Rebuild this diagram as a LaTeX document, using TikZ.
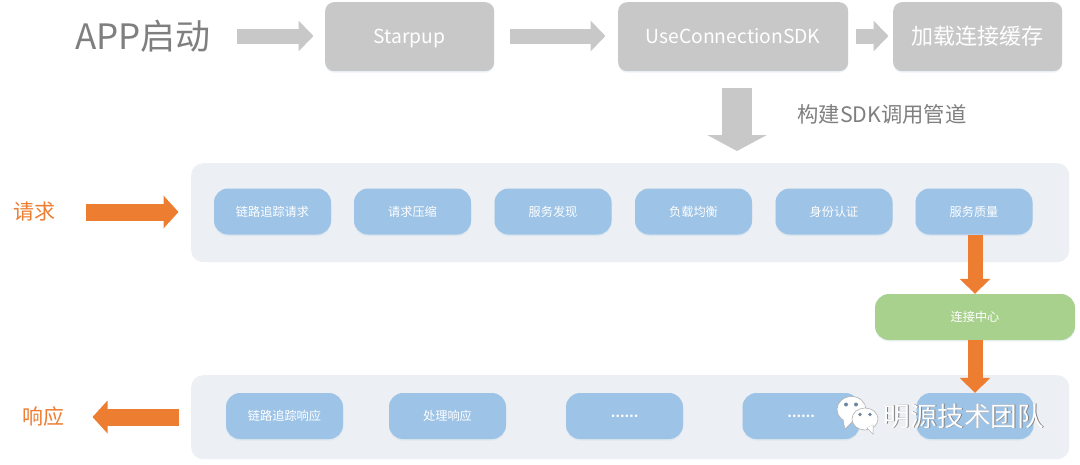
\documentclass[tikz,border=0pt]{standalone}
\usepackage{fontspec}
\setmainfont{Noto Sans CJK SC}
\usetikzlibrary{arrows.meta,shadows}
\definecolor{greybox}{HTML}{C8C8C8}
\definecolor{greytxt}{HTML}{7F7F7F}
\definecolor{orangeA}{HTML}{ED7D31}
\definecolor{bluebox}{HTML}{9DC3E6}
\definecolor{greenbox}{HTML}{A9D18E}
\definecolor{panelc}{HTML}{ECEFF3}
\tikzset{
 softshadow/.style={drop shadow={shadow xshift=0pt,shadow yshift=-1.5pt,opacity=.18,fill=bluebox}},
 gbox/.style={rounded corners=9pt,fill=greybox,text=white,softshadow,anchor=north west,inner sep=0pt,align=center},
 sbox/.style={rounded corners=14pt,fill=bluebox,text=white,font=\fontsize{12.2}{14}\selectfont,minimum width=117pt,minimum height=46pt,inner sep=0pt,softshadow},
 panel/.style={rounded corners=12pt,fill=panelc,minimum width=878pt,inner sep=0pt,anchor=north west},
 grey arrow/.style={draw=greybox,line width=15pt,-{Triangle[length=15pt,width=30pt]}},
 orange arrow/.style={draw=orangeA,line width=15pt,-{Triangle[length=15pt,width=30pt]}},
 lbl/.style={inner sep=0pt},
 wm/.style={inner sep=0pt,text=white,font=\fontsize{26.7}{29}\selectfont},
 wms/.style={inner sep=0pt,text=black!50,font=\fontsize{26.7}{29}\selectfont},
 bubble/.style={fill=white,draw=black!30,line width=.6pt},
 eye/.style={fill=bluebox!70!black,draw=none},
}
\begin{document}
\begin{tikzpicture}[x=1pt,y=-1pt]
\useasboundingbox[fill=white] (0,0) rectangle (1080,464);
% top row
\node[lbl,text=greytxt,font=\fontsize{35}{38}\selectfont] (app) at (143,36) {APP启动};
\node[gbox,minimum width=169pt,minimum height=69pt] (star) at (325,2) {};
\node[lbl,text=white,font=\fontsize{19.3}{21}\selectfont,anchor=base] (startxt) at (409.5,43) {Starpup};
\node[gbox,minimum width=230pt,minimum height=69pt] (ucs) at (618,2) {};
\node[lbl,text=white,font=\fontsize{19.3}{21}\selectfont,anchor=base] (ucstxt) at (733,43) {UseConnectionSDK};
\node[gbox,minimum width=169pt,minimum height=69pt] (cache) at (893,2) {};
\node[lbl,text=white,font=\fontsize{22}{24}\selectfont] (cachetxt) at (977.5,36) {加载连接缓存};
\coordinate (a1s) at (237,36); \coordinate (a1e) at (313.5,36);
\coordinate (a2s) at (510,36); \coordinate (a2e) at (605.5,36);
\coordinate (a3s) at (856,36); \coordinate (a3e) at (888.5,36);
\draw[grey arrow] (a1s) -- (a1e);
\draw[grey arrow] (a2s) -- (a2e);
\draw[grey arrow] (a3s) -- (a3e);
\coordinate (d1s) at (737,88); \coordinate (d1e) at (737,151);
\draw[draw=greybox,line width=30pt,-{Triangle[length=16pt,width=59pt]}] (d1s) -- (d1e);
\node[lbl,text=greytxt,font=\fontsize{21.3}{24}\selectfont] (pipe) at (882,114) {构建SDK调用管道};
% panels
\node[panel,minimum height=99pt] (p1) at (191,163) {};
\node[panel,minimum height=84pt] (p2) at (191,375) {};
% request row
\node[lbl,text=orangeA,font=\fontsize{21}{23}\selectfont] (req) at (34,212) {请求};
\coordinate (rqs) at (86,212); \coordinate (rqe) at (178.5,212);
\draw[draw=orangeA,line width=17pt,-{Triangle[length=15pt,width=32pt]}] (rqs) -- (rqe);
\node[sbox] (r1) at (272.5,211.5) {链路追踪请求};
\node[sbox] (r2) at (412.5,211.5) {请求压缩};
\node[sbox] (r3) at (553,211.5) {服务发现};
\node[sbox] (r4) at (693.5,211.5) {负载均衡};
\node[sbox] (r5) at (834,211.5) {身份认证};
\node[sbox] (r6) at (974,211.5) {服务质量};
% centre
\node[sbox,fill=greenbox,minimum width=200pt] (hub) at (975,317) {连接中心};
% response row
\node[lbl,text=orangeA,font=\fontsize{21}{23}\selectfont] (resp) at (44,417) {响应};
\node[sbox] (s1) at (284.5,416) {链路追踪响应};
\node[sbox] (s2) at (447.5,416) {处理响应};
\node[sbox] (s3) at (624.5,416) {\textbf{⋯⋯}};
\node[sbox] (s4) at (801,416) {\textbf{⋯⋯}};
\node[sbox] (s5) at (975,416) {};
\coordinate (rs) at (179,417); \coordinate (re) at (92.5,417);
\draw[draw=orangeA,line width=17pt,-{Triangle[length=15pt,width=32pt]}] (rs) -- (re);
\draw[orange arrow] (r6.south -| hub.north) -- (hub.north);
\draw[orange arrow] (hub.south) -- (s5.north -| hub.south);
% watermark
\filldraw[bubble] (851.5,409.5) ellipse (14.5pt and 13pt);
\filldraw[bubble] (843,420) -- (845,429) -- (853,421) -- cycle;
\fill[white] (843.6,419) -- (845.3,427.6) -- (853,420) -- cycle;
\fill[eye] (846,404.5) circle (2pt);
\fill[eye] (856,404.5) circle (2pt);
\filldraw[bubble] (865,419) ellipse (13pt and 11pt);
\filldraw[bubble] (867,428) -- (873,434) -- (873,425) -- cycle;
\fill[white] (867.5,427.5) -- (872.5,432.8) -- (872.5,425) -- cycle;
\fill[eye] (860,414.5) circle (1.8pt);
\fill[eye] (870,414.5) circle (1.8pt);
\node[wms] (wmb) at (964.8,416.8) {明源技术团队};
\node[wm] (wm) at (964,416) {明源技术团队};
\end{tikzpicture}
\end{document}
